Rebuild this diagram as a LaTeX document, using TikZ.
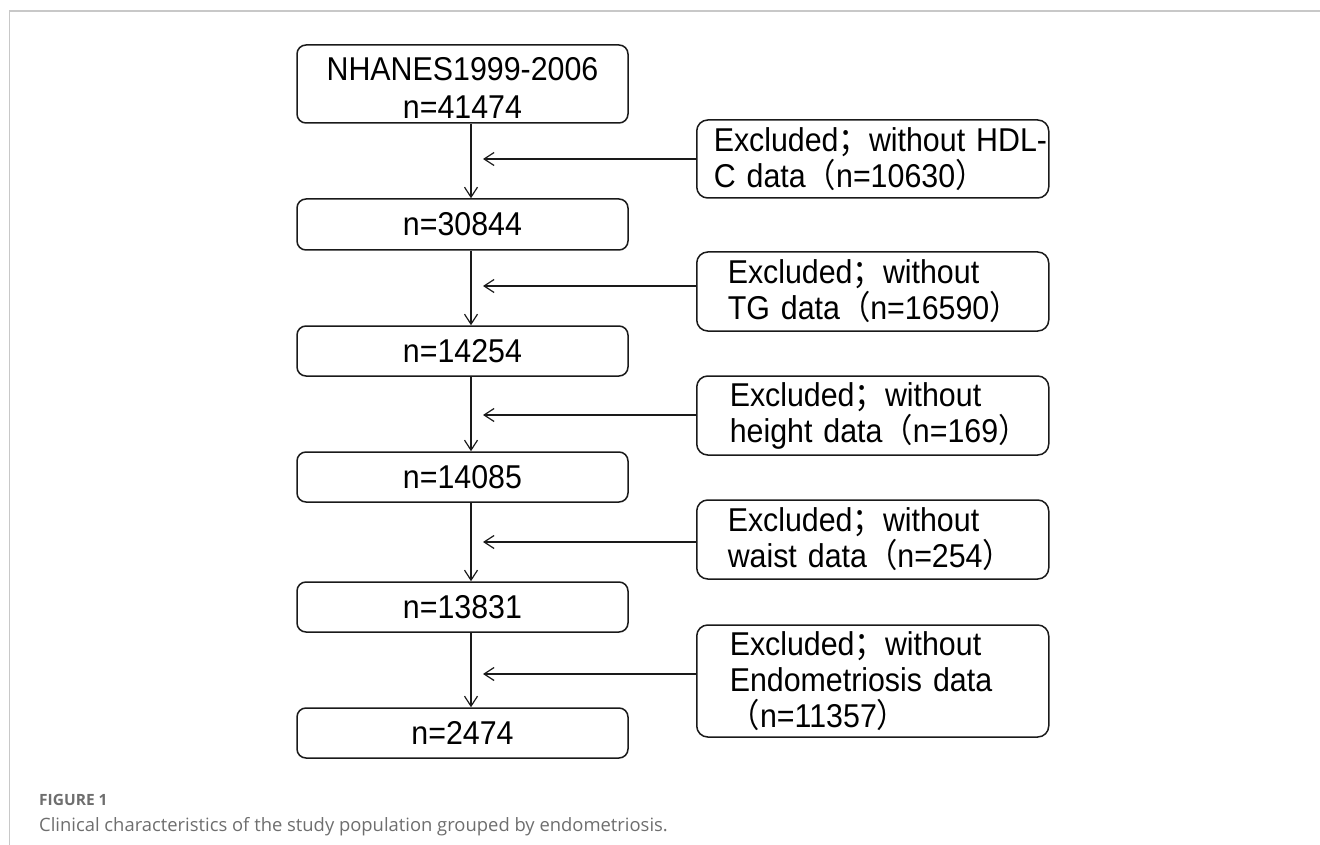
\documentclass[tikz,border=0pt]{standalone}
\usepackage{fontspec}
\setmainfont[FakeStretch=0.92]{Liberation Sans}
\newfontfamily\cjkfont[FakeStretch=0.92]{Noto Sans CJK SC}
\newfontfamily\capfont{Open Sans}
\usetikzlibrary{arrows.meta}
\definecolor{framegray}{HTML}{C8C8C8}
\definecolor{capgray}{HTML}{6E6E6E}
\definecolor{ink}{HTML}{1A1A1A}
\newcommand{\cjksemi}{{\cjkfont ；}}
\newcommand{\cjklp}{{\cjkfont （}}
\newcommand{\cjkrp}{{\cjkfont ）}}
\begin{document}
\begin{tikzpicture}[x=1pt,y=-1pt,
  mainbox/.style={draw=ink, line width=1.5pt, rounded corners=9pt, minimum width=331pt,
    inner sep=0pt, align=center, font=\fontsize{33}{38}\selectfont},
  sidebox/.style={draw=ink, line width=1.5pt, rounded corners=11pt, inner ysep=0pt,
    align=left, anchor=west, font=\fontsize{33}{36}\selectfont},
  flow/.style={draw=ink, line width=1.2pt, -{Straight Barb[length=10pt,width=13pt,line width=1.2pt]}},
  captxt/.style={anchor=base west, inner sep=0pt, text=capgray}
]
\useasboundingbox (0,0) rectangle (1320,845);
\draw[framegray, line width=1.5pt] (9.5,845) -- (9.5,11) -- (1320,11);

% main column
\node[mainbox, minimum height=78pt] (b1) at (462.5,84) {\rule{0pt}{32pt}NHANES1999-2006\\n=41474};
\node[mainbox, minimum height=51pt] (b2) at (462.5,224.5) {n=30844};
\node[mainbox, minimum height=50pt] (b3) at (462.5,351) {n=14254};
\node[mainbox, minimum height=50pt] (b4) at (462.5,477) {n=14085};
\node[mainbox, minimum height=50pt] (b5) at (462.5,607) {n=13831};
\node[mainbox, minimum height=50pt] (b6) at (462.5,733) {n=2474};

% side boxes
\node[sidebox, minimum height=78pt, inner xsep=17pt, text width=318pt] (sA) at (696,159)
  {\mbox{Excluded\cjksemi without HDL-}\\\mbox{C data\cjklp n=10630\cjkrp}};
\node[sidebox, minimum height=79pt, inner xsep=31pt, text width=290pt] (sB) at (696,291.5)
  {\mbox{Excluded\cjksemi without}\\\mbox{TG data\cjklp n=16590\cjkrp}};
\node[sidebox, minimum height=79pt, inner xsep=33pt, text width=286pt] (sC) at (696,415.5)
  {\mbox{Excluded\cjksemi without}\\\mbox{height data\cjklp n=169\cjkrp}};
\node[sidebox, minimum height=79pt, inner xsep=31pt, text width=290pt] (sD) at (696,539.5)
  {\mbox{Excluded\cjksemi without}\\\mbox{waist data\cjklp n=254\cjkrp}};
\node[sidebox, minimum height=112pt, inner xsep=33pt, text width=286pt] (sE) at (696,681)
  {\mbox{Excluded\cjksemi without}\\\mbox{Endometriosis data}\\\mbox{\cjklp n=11357\cjkrp}};

% connectors
\coordinate (vx) at (471,0);
\draw[flow] (b1.south -| vx) -- (b2.north -| vx);
\draw[flow] (b2.south -| vx) -- (b3.north -| vx);
\draw[flow] (b3.south -| vx) -- (b4.north -| vx);
\draw[flow] (b4.south -| vx) -- (b5.north -| vx);
\draw[flow] (b5.south -| vx) -- (b6.north -| vx);

\coordinate (tA) at (483,159);
\coordinate (tB) at (483,286);
\coordinate (tC) at (483,415);
\coordinate (tD) at (483,542);
\coordinate (tE) at (483,674);
\draw[flow] (sA.west |- tA) -- (tA);
\draw[flow] (sB.west |- tB) -- (tB);
\draw[flow] (sC.west |- tC) -- (tC);
\draw[flow] (sD.west |- tD) -- (tD);
\draw[flow] (sE.west |- tE) -- (tE);

% caption
\node[captxt, font=\capfont\bfseries\fontsize{15.5}{18}\selectfont] (fig) at (39,805) {FIGURE 1};
\node[captxt, font=\capfont\fontsize{18.4}{22}\selectfont] (cap) at (39,831)
  {Clinical characteristics of the study population grouped by endometriosis.};
\end{tikzpicture}
\end{document}
